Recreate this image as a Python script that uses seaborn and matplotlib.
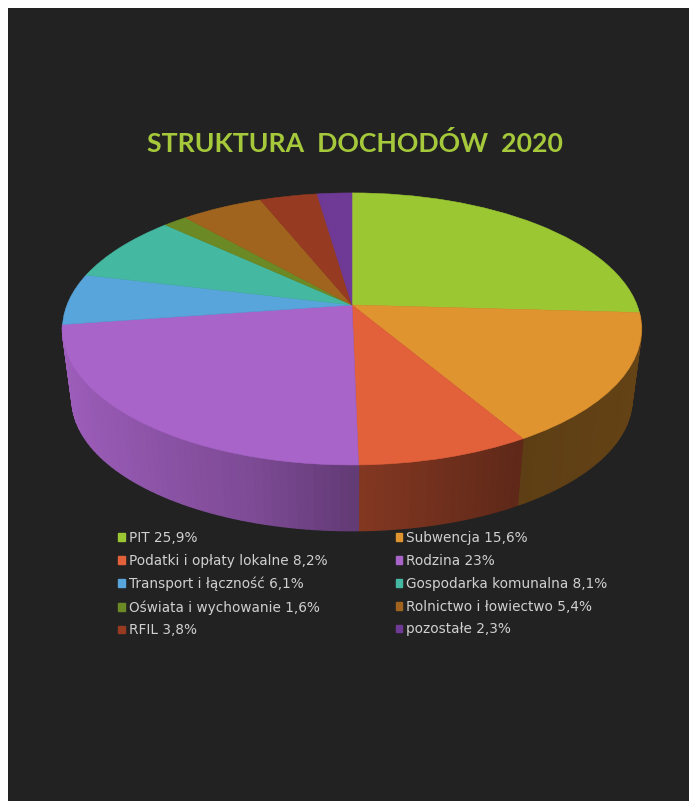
import numpy as np
import seaborn as sns
import matplotlib
matplotlib.use("Agg")
import matplotlib.pyplot as plt
from matplotlib.patches import Patch
from matplotlib.transforms import Transform

categories = ["PIT", "Subwencja", "Podatki i opłaty lokalne", "Rodzina",
              "Transport i łączność", "Gospodarka komunalna",
              "Oświata i wychowanie", "Rolnictwo i łowiectwo", "RFIL", "pozostałe"]
values = [25.9, 15.6, 8.2, 23, 6.1, 8.1, 1.6, 5.4, 3.8, 2.3]
value_labels = ["25,9%", "15,6%", "8,2%", "23%", "6,1%", "8,1%", "1,6%", "5,4%", "3,8%", "2,3%"]
colors = ["#9bc832", "#df9430", "#e2603a", "#a864c8", "#57a5db",
          "#45b8a2", "#6b8a25", "#a0641f", "#963b22", "#6f3a95"]

# perspective of the pie disc, in pixels of the picture
CX, CY = 352, 305
RX, RY = 285, 131.8
TILT = 0.176
BOTTOM_CY = 376
BOTTOM_SCALE = 0.967


def project(x, y, cy=CY, scale=1.0):
    w = 1 + TILT * y
    return CX + scale * RX * x / w, cy - scale * RY * y / w


class DiscTransform(Transform):
    input_dims = 2
    output_dims = 2

    def transform_non_affine(self, values):
        px, py = project(values[:, 0], values[:, 1])
        return np.column_stack([px, py])


sns.set_theme(style="dark", rc={"figure.facecolor": "white", "axes.facecolor": "#222222"})
palette = sns.color_palette(colors)

fig = plt.figure(figsize=(6.89, 8.01), dpi=100)
ax = fig.add_axes([8 / 689, 0, 681 / 689, 793 / 801])

wedges, _ = ax.pie(values, colors=palette, startangle=90, counterclock=False, radius=1,
                   wedgeprops={"linewidth": 0.4})
ax.set_aspect("auto")
ax.set(xlim=(8, 689), ylim=(801, 8), frame_on=True)
for s in ax.spines.values():
    s.set_visible(False)

disc = DiscTransform() + ax.transData
for w, c in zip(wedges, palette):
    w.set_transform(disc)
    w.set_edgecolor(c)
    w.set_zorder(5)

# side wall: thin strips, darker towards the front right
for w, c in zip(wedges, palette):
    a1, a2 = sorted([w.theta1, w.theta2])
    if np.sin(np.radians((a1 + a2) / 2)) > -0.15:
        continue
    steps = np.linspace(a1, a2, max(2, int((a2 - a1) / 1.5) + 2))
    for t1, t2 in zip(steps[:-1], steps[1:]):
        t = np.radians([t1, t2])
        x, y = np.cos(t), np.sin(t)
        shade = np.interp(x.mean(), [-1, -0.3, 0.02, 0.5, 1], [0.95, 0.75, 0.58, 0.42, 0.45])
        tx, ty = project(x, y)
        bx, by = project(x, y, BOTTOM_CY, BOTTOM_SCALE)
        col = tuple(np.array(c) * shade)
        ax.fill(np.r_[tx, bx[::-1]], np.r_[ty, by[::-1]], color=col, lw=1.0, zorder=2)

ax.set(xlim=(8, 689), ylim=(801, 8))

ax.text(355, 143, "STRUKTURA  DOCHODÓW  2020", color="#a5c93a", ha="center", va="center",
        fontsize=19.2, fontweight="bold", family="Lato")

# legend is filled column by column, the picture reads row by row
order = list(range(0, 10, 2)) + list(range(1, 10, 2))
handles = [Patch(color=palette[i], label=f"{categories[i]} {value_labels[i]}") for i in order]
ax.legend(handles=handles, ncols=2, loc="upper left", bbox_to_anchor=(118, 531),
          bbox_transform=ax.transData, frameon=False, labelcolor="#d0d0d0",
          handlelength=0.5, handleheight=0.5, handletextpad=0.3, labelspacing=0.65,
          columnspacing=5.0, borderpad=0, borderaxespad=0,
          prop={"family": "DejaVu Sans", "size": 9.8})

fig.savefig("out.png", dpi=100)
